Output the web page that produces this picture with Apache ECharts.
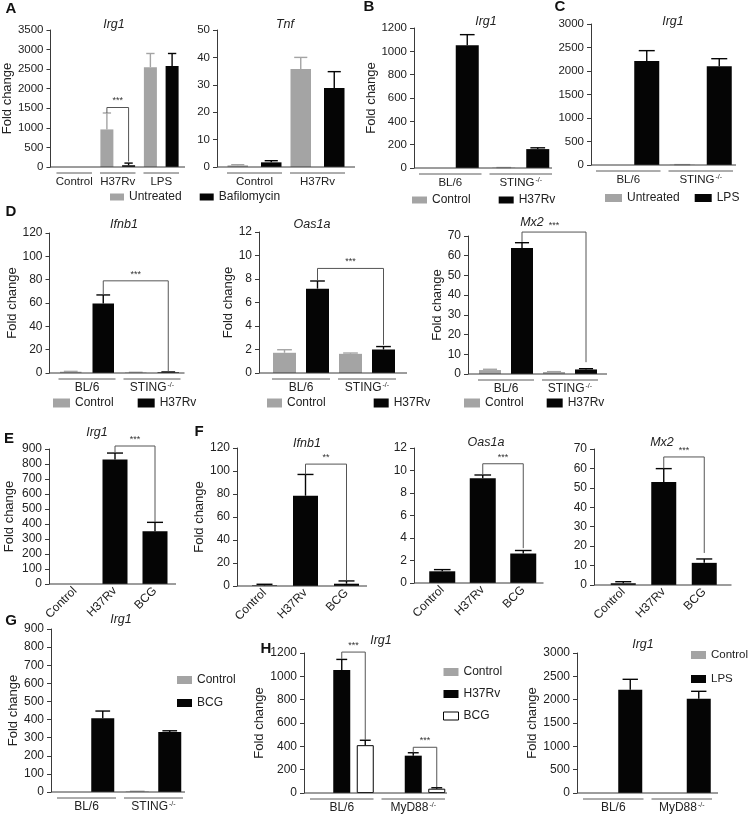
<!DOCTYPE html>
<html><head><meta charset="utf-8">
<script src="https://cdn.jsdelivr.net/npm/echarts@6/dist/echarts.min.js"></script>
<style>html,body{margin:0;padding:0;background:#fff}#c{width:749px;height:814px}</style>
</head><body><div id="c"></div>
<script>
// ================= DATA =================
// Panel A – Irg1
const aIrg1Groups = ['Control', 'H37Rv', 'LPS'];
const aIrg1Axis = [0, 3500, 500];
const aIrg1Untreated = [0, 960, 2550];
const aIrg1UntreatedErr = [0, 1380, 2900];
const aIrg1Bafilomycin = [0, 45, 2580];
const aIrg1BafilomycinErr = [0, 100, 2900];
const aIrg1Sig = ['***', 1520, 1380, 140];
// Panel A – Tnf
const aTnfGroups = ['Control', 'H37Rv'];
const aTnfAxis = [0, 50, 10];
const aTnfUntreated = [0.6, 35.8];
const aTnfUntreatedErr = [0.85, 40];
const aTnfBafilomycin = [1.7, 28.8];
const aTnfBafilomycinErr = [2.3, 34.8];
// Panel B – Irg1
const bGroups = ['BL/6', 'STING-/-'];
const bAxis = [0, 1200, 200];
const bControl = [0, 3];
const bControlErr = [0, 4];
const bH37Rv = [1052, 162];
const bH37RvErr = [1143, 173];
// Panel C – Irg1
const cGroups = ['BL/6', 'STING-/-'];
const cAxis = [0, 3000, 500];
const cUntreated = [0, 6];
const cUntreatedErr = [0, 8];
const cLPS = [2213, 2099];
const cLPSErr = [2433, 2262];
// Panel D
const dGroups = ['BL/6', 'STING-/-'];
const dIfnb1Axis = [0, 120, 20];
const dIfnb1Control = [1.1, 0.4];
const dIfnb1ControlErr = [1.4, 0.6];
const dIfnb1H37Rv = [59.5, 0.6];
const dIfnb1H37RvErr = [66.9, 0.9];
const dIfnb1Sig = ['***', 79, 67, 1.5];
const dOas1aAxis = [0, 12, 2];
const dOas1aControl = [1.72, 1.63];
const dOas1aControlErr = [1.98, 1.7];
const dOas1aH37Rv = [7.18, 2.0];
const dOas1aH37RvErr = [7.83, 2.25];
const dOas1aSig = ['***', 8.9, 7.85, 2.4];
const dMx2Axis = [0, 70, 10];
const dMx2Control = [2.0, 1.0];
const dMx2ControlErr = [2.4, 1.2];
const dMx2H37Rv = [63.9, 2.3];
const dMx2H37RvErr = [66.6, 2.7];
const dMx2Sig = ['***', 72, 67, 6];
// Panel E / F
const efGroups = ['Control', 'H37Rv', 'BCG'];
const eIrg1Axis = [0, 900, 100];
const eIrg1 = [0, 830, 352];
const eIrg1Err = [0, 873, 411];
const eIrg1Sig = ['***', 920, 880, 413];
const fIfnb1Axis = [0, 120, 20];
const fIfnb1 = [0.5, 78.5, 2];
const fIfnb1Err = [1.5, 97, 4.4];
const fIfnb1Sig = ['**', 106, 97, 5];
const fOas1aAxis = [0, 12, 2];
const fOas1a = [1.04, 9.32, 2.62];
const fOas1aErr = [1.19, 9.6, 2.89];
const fOas1aSig = ['***', 10.6, 9.6, 3.1];
const fMx2Axis = [0, 70, 10];
const fMx2 = [0.9, 53, 11.4];
const fMx2Err = [1.7, 59.9, 13.4];
const fMx2Sig = ['***', 65.9, 60, 16.5];
// Panel G
const gGroups = ['BL/6', 'STING-/-'];
const gAxis = [0, 900, 100];
const gControl = [0, 3];
const gControlErr = [0, 4];
const gBCG = [407, 331];
const gBCGErr = [447, 338];
// Panel H
const hGroups = ['BL/6', 'MyD88-/-'];
const h1Axis = [0, 1200, 200];
const h1Control = [0, 0];
const h1H37Rv = [1055, 320];
const h1H37RvErr = [1145, 345];
const h1BCG = [410, 37];
const h1BCGErr = [452, 45];
const h1SigBL6 = ['***', 1208, 1150, 455];
const h1SigMyD88 = ['***', 392, 347, 50];
const h2Axis = [0, 3000, 500];
const h2Control = [0, 0];
const h2LPS = [2214, 2021];
const h2LPSErr = [2436, 2179];

// ================= STYLE / LAYOUT =================
const GRAY = '#a4a4a4', BLACK = '#050505', WHITE = '#ffffff';
const AX = '#3a3a3a', TXT = '#222222', ULINE = '#5a5a5a';
const FONT = "'Liberation Sans', Arial, Helvetica, sans-serif";

const panels = [
  { left: 52, top: 30, width: 131, height: 137, lead: 2, tail: 2, cats: aIrg1Groups, axis: aIrg1Axis, barW: 13, pitch: 21.7, fs: 11.5,
    bars: [{ name: 'Untreated', vals: aIrg1Untreated, err: aIrg1UntreatedErr, color: GRAY },
           { name: 'Bafilomycin', vals: aIrg1Bafilomycin, err: aIrg1BafilomycinErr, color: BLACK }],
    yName: 'Fold change', nameGap: 36, under: true, sig: [[1, 0, 1, 1, aIrg1Sig]],
    title: ['Irg1', 114, 25],
    legend: { left: 110, top: 191, w: 14, h: 7, gap: 18 } },
  { left: 223, top: 30, width: 126, height: 137, lead: 6, tail: 6, cats: aTnfGroups, axis: aTnfAxis, barW: 20.5, pitch: 33.5, fs: 11.5,
    bars: [{ name: 'Untreated', vals: aTnfUntreated, err: aTnfUntreatedErr, color: GRAY },
           { name: 'Bafilomycin', vals: aTnfBafilomycin, err: aTnfBafilomycinErr, color: BLACK }],
    under: true, title: ['Tnf', 285, 25] },
  { left: 415, top: 28, width: 141, height: 140, lead: 1, tail: -4, cats: bGroups, axis: bAxis, barW: 23, pitch: 34, fs: 11.5,
    bars: [{ name: 'Control', vals: bControl, err: bControlErr, color: GRAY },
           { name: 'H37Rv', vals: bH37Rv, err: bH37RvErr, color: BLACK }],
    yName: 'Fold change', nameGap: 31, under: true, title: ['Irg1', 486, 22],
    legend: { left: 412, top: 194, w: 15, h: 7, gap: 28 } },
  { left: 592, top: 24, width: 145, height: 141, lead: 1, tail: -1, cats: cGroups, axis: cAxis, barW: 25, pitch: 37, fs: 11.5,
    bars: [{ name: 'Untreated', vals: cUntreated, err: cUntreatedErr, color: GRAY },
           { name: 'LPS', vals: cLPS, err: cLPSErr, color: BLACK }],
    under: true, title: ['Irg1', 673, 22],
    legend: { left: 605, top: 192, w: 17, h: 8, gap: 15 } },
  { left: 54.5, top: 233, width: 130, height: 140, lead: 5, tail: 0, cats: dGroups, axis: dIfnb1Axis, barW: 21.5, pitch: 32.5, fs: 12,
    bars: [{ name: 'Control', vals: dIfnb1Control, err: dIfnb1ControlErr, color: GRAY },
           { name: 'H37Rv', vals: dIfnb1H37Rv, err: dIfnb1H37RvErr, color: BLACK }],
    yName: 'Fold change', nameGap: 24, under: true, sig: [[0, 1, 1, 1, dIfnb1Sig]], title: ['Ifnb1', 124, 225],
    legend: { left: 53, top: 397, w: 17, h: 9, gap: 24 } },
  { left: 268, top: 232, width: 132, height: 141, lead: 9, tail: 7, cats: dGroups, axis: dOas1aAxis, barW: 23, pitch: 33, fs: 12,
    bars: [{ name: 'Control', vals: dOas1aControl, err: dOas1aControlErr, color: GRAY },
           { name: 'H37Rv', vals: dOas1aH37Rv, err: dOas1aH37RvErr, color: BLACK }],
    yName: 'Fold change', nameGap: 16, under: true, sig: [[0, 1, 1, 1, dOas1aSig]], title: ['Oas1a', 312, 225],
    legend: { left: 267, top: 397, w: 15, h: 9, gap: 48 } },
  { left: 474, top: 236, width: 128, height: 138, lead: 6, tail: 5, cats: dGroups, axis: dMx2Axis, barW: 22, pitch: 32, fs: 12,
    bars: [{ name: 'Control', vals: dMx2Control, err: dMx2ControlErr, color: GRAY },
           { name: 'H37Rv', vals: dMx2H37Rv, err: dMx2H37RvErr, color: BLACK }],
    yName: 'Fold change', nameGap: 23, under: true, sig: [[0, 1, 1, 1, dMx2Sig]], title: ['Mx2', 532, 223],
    legend: { left: 464, top: 397, w: 16, h: 9, gap: 23 } },
  { left: 55, top: 449, width: 120, height: 135, lead: 6, tail: 1, cats: efGroups, axis: eIrg1Axis, barW: 25, pitch: 0, fs: 12, rot: true,
    bars: [{ name: 'Irg1', vals: eIrg1, err: eIrg1Err, color: BLACK }],
    yName: 'Fold change', nameGap: 33, sig: [[1, 0, 2, 0, eIrg1Sig]], title: ['Irg1', 97, 433] },
  { left: 244, top: 448, width: 123, height: 138, lead: 7, tail: 0, cats: efGroups, axis: fIfnb1Axis, barW: 25, pitch: 0, fs: 12, rot: true,
    bars: [{ name: 'Ifnb1', vals: fIfnb1, err: fIfnb1Err, color: BLACK }],
    yName: 'Fold change', nameGap: 26, sig: [[1, 0, 2, 0, fIfnb1Sig]], title: ['Ifnb1', 307, 444] },
  { left: 422, top: 448, width: 121.5, height: 135, lead: 8, tail: 0, cats: efGroups, axis: fOas1aAxis, barW: 26, pitch: 0, fs: 12, rot: true,
    bars: [{ name: 'Oas1a', vals: fOas1a, err: fOas1aErr, color: BLACK }],
    sig: [[1, 0, 2, 0, fOas1aSig]], title: ['Oas1a', 486, 443] },
  { left: 603, top: 449, width: 121.5, height: 136, lead: 9, tail: 7, cats: efGroups, axis: fMx2Axis, barW: 25, pitch: 0, fs: 12, rot: true,
    bars: [{ name: 'Mx2', vals: fMx2, err: fMx2Err, color: BLACK }],
    sig: [[1, 0, 2, 0, fMx2Sig]], title: ['Mx2', 662, 443] },
  { left: 53, top: 629, width: 134, height: 163, lead: 2, tail: -2, cats: gGroups, axis: gAxis, barW: 23, pitch: 32.5, fs: 12,
    bars: [{ name: 'Control', vals: gControl, err: gControlErr, color: GRAY },
           { name: 'BCG', vals: gBCG, err: gBCGErr, color: BLACK }],
    yName: 'Fold change', nameGap: 30, under: true, title: ['Irg1', 121, 620],
    legend: { left: 177, top: 674, w: 15, h: 8, gap: 11, vertical: true } },
  { left: 306, top: 653, width: 143, height: 140, lead: 2, tail: -2, cats: hGroups, axis: h1Axis, barW: 17, pitch: 23.5, fs: 12,
    bars: [{ name: 'Control', vals: h1Control, color: GRAY },
           { name: 'H37Rv', vals: h1H37Rv, err: h1H37RvErr, color: BLACK },
           { name: 'BCG', vals: h1BCG, err: h1BCGErr, color: WHITE, border: BLACK }],
    yName: 'Fold change', nameGap: 28, under: true, sig: [[0, 1, 0, 2, h1SigBL6], [1, 1, 1, 2, h1SigMyD88]],
    title: ['Irg1', 381, 641],
    legend: { left: 443, top: 666, w: 15, h: 8, gap: 10, vertical: true } },
  { left: 579, top: 653, width: 137, height: 140, lead: 2, tail: 2, cats: hGroups, axis: h2Axis, barW: 24, pitch: 34, fs: 12,
    bars: [{ name: 'Control', vals: h2Control, color: GRAY },
           { name: 'LPS', vals: h2LPS, err: h2LPSErr, color: BLACK }],
    yName: 'Fold change', nameGap: 34, under: true, title: ['Irg1', 643, 645],
    legend: { left: 691, top: 649, w: 15, h: 8, gap: 12, vertical: true, fs: 11.5, textGap: 4 } }
];

const letters = [['A', 11, 9], ['B', 369, 7], ['C', 560, 7], ['D', 11, 212], ['E', 9, 439],
                 ['F', 199, 432], ['G', 11, 621], ['H', 266, 649]];

// ================= BUILD =================
const option = {
  animation: false, backgroundColor: '#ffffff',
  textStyle: { fontFamily: FONT },
  grid: [], xAxis: [], yAxis: [], series: [], legend: [], graphic: []
};

function supFmt(v) { return v.replace('-/-', '{sup|-/-}'); }
function fmtNum(v) { return String(v); }

panels.forEach((p, gi) => {
  const n = p.bars.length;
  const nC = p.cats.length;
  option.grid.push({ left: p.left, top: p.top, width: p.width, height: p.height });
  option.xAxis.push({
    type: 'category', gridIndex: gi, data: p.cats,
    axisLine: { show: false }, axisTick: { show: false }, splitLine: { show: false },
    axisLabel: p.rot
      ? { rotate: 45, margin: 5, fontSize: p.fs, color: TXT, interval: 0 }
      : { margin: 9, fontSize: p.fs, color: TXT, interval: 0, formatter: supFmt,
          rich: { sup: { fontSize: 7, verticalAlign: 'top', color: TXT, padding: [0, 0, 0, 1] } } }
  });
  option.yAxis.push({
    type: 'value', gridIndex: gi, min: p.axis[0], max: p.axis[1], interval: p.axis[2],
    offset: p.lead, splitLine: { show: false },
    axisLine: { show: true, lineStyle: { color: AX, width: 1 } },
    axisTick: { show: true, length: 4, lineStyle: { color: AX, width: 1 } },
    axisLabel: { fontSize: p.fs, color: TXT, margin: 7, formatter: fmtNum },
    name: p.yName || '', nameLocation: 'middle', nameGap: p.nameGap || 30, nameRotate: 90,
    nameTextStyle: { fontSize: 13, color: TXT }
  });
  const gapPct = n > 1 ? ((p.pitch / p.barW - 1) * 100) + '%' : '0%';
  p.bars.forEach(b => {
    option.series.push({
      type: 'bar', name: b.name, xAxisIndex: gi, yAxisIndex: gi, data: b.vals,
      barWidth: p.barW, barGap: gapPct, silent: true, z: 2,
      itemStyle: { color: b.color, borderColor: b.border || b.color, borderWidth: b.border ? 1 : 0 }
    });
  });
  // error bars
  const errData = [];
  p.bars.forEach((b, si) => {
    if (!b.err) return;
    b.vals.forEach((v, ci) => { if (b.err[ci] > v) errData.push([ci, si, v, b.err[ci]]); });
  });
  option.series.push({
    type: 'custom', xAxisIndex: gi, yAxisIndex: gi, clip: false, silent: true, z: 3,
    data: errData, encode: { x: 0, y: 3 },
    renderItem: function (params, api) {
      const ci = api.value(0), si = api.value(1);
      const base = api.coord([ci, api.value(2)]);
      const top = api.coord([ci, api.value(3)]);
      const x = base[0] + (si - (n - 1) / 2) * p.pitch;
      const b = p.bars[si];
      const col = b.border ? b.border : b.color;
      const cap = p.barW * 0.32;
      return { type: 'group', children: [
        { type: 'line', shape: { x1: x, y1: base[1], x2: x, y2: top[1] }, style: { stroke: col, lineWidth: 1.4 } },
        { type: 'line', shape: { x1: x - cap, y1: top[1], x2: x + cap, y2: top[1] }, style: { stroke: col, lineWidth: 1.4 } }
      ] };
    }
  });
  // baseline + group underlines
  option.series.push({
    type: 'custom', xAxisIndex: gi, yAxisIndex: gi, clip: false, silent: true, z: 4,
    data: p.cats.map((c, i) => [i, p.axis[0]]),
    renderItem: function (params, api) {
      const ci = api.value(0);
      const pt = api.coord([ci, p.axis[0]]);
      const band = api.size([1, 0])[0];
      const kids = [];
      if (ci === 0) {
        const last = api.coord([nC - 1, p.axis[0]]);
        kids.push({ type: 'line', shape: { x1: pt[0] - band / 2 - p.lead, y1: pt[1], x2: last[0] + band / 2 + p.tail, y2: pt[1] },
                    style: { stroke: AX, lineWidth: 1 } });
      }
      if (p.under) {
        kids.push({ type: 'line', shape: { x1: pt[0] - band / 2 + 4, y1: pt[1] + 6, x2: pt[0] + band / 2 - 4, y2: pt[1] + 6 },
                    style: { stroke: ULINE, lineWidth: 1 } });
      }
      return { type: 'group', children: kids };
    }
  });
  // significance brackets
  if (p.sig) {
    option.series.push({
      type: 'custom', xAxisIndex: gi, yAxisIndex: gi, clip: false, silent: true, z: 5,
      data: p.sig.map(s => [s[0], s[1], s[2], s[3], s[4][1], s[4][2], s[4][3]]),
      renderItem: function (params, api) {
        const idx = params.dataIndex;
        const label = p.sig[idx][4][0];
        const fc = api.value(0), fs = api.value(1), tc = api.value(2), ts = api.value(3);
        const topV = api.value(4), lb = api.value(5), rb = api.value(6);
        const x1 = api.coord([fc, topV])[0] + (fs - (n - 1) / 2) * p.pitch;
        const x2 = api.coord([tc, topV])[0] + (ts - (n - 1) / 2) * p.pitch;
        const yT = api.coord([fc, topV])[1];
        const yL = api.coord([fc, lb])[1];
        const yR = api.coord([tc, rb])[1];
        return { type: 'group', children: [
          { type: 'polyline', shape: { points: [[x1, yL], [x1, yT], [x2, yT], [x2, yR]] },
            style: { stroke: '#555', lineWidth: 1, fill: null } },
          { type: 'text', x: (x1 + x2) / 2, y: yT - 2,
            style: { text: label, fontSize: 9, fontFamily: FONT, fill: '#333', align: 'center', verticalAlign: 'bottom' } }
        ] };
      }
    });
  }
  // legend
  if (p.legend) {
    const L = p.legend;
    option.legend.push({
      left: L.left, top: L.top, orient: L.vertical ? 'vertical' : 'horizontal', padding: 0,
      itemWidth: L.w, itemHeight: L.h, itemGap: L.gap, selectedMode: false, icon: 'rect',
      textStyle: { fontSize: L.fs || 12, color: TXT, fontFamily: FONT },
      data: p.bars.map(b => ({ name: b.name,
        itemStyle: { color: b.color, borderColor: b.border || b.color, borderWidth: b.border ? 1 : 0 } }))
    });
  }
  // panel title
  option.graphic.push({ type: 'text', x: p.title[1], y: p.title[2], silent: true,
    style: { text: p.title[0], fontSize: 12.5, fontStyle: 'italic', fontFamily: FONT, fill: TXT,
             align: 'center', verticalAlign: 'middle', textAlign: 'center', textVerticalAlign: 'middle' } });
});

letters.forEach(l => option.graphic.push({ type: 'text', x: l[1], y: l[2], silent: true,
  style: { text: l[0], fontSize: 15, fontWeight: 'bold', fontFamily: FONT, fill: '#111',
           align: 'center', verticalAlign: 'middle', textAlign: 'center', textVerticalAlign: 'middle' } }));

const chart = echarts.init(document.getElementById('c'), null, { renderer: 'canvas' });
chart.setOption(option);
</script></body></html>
